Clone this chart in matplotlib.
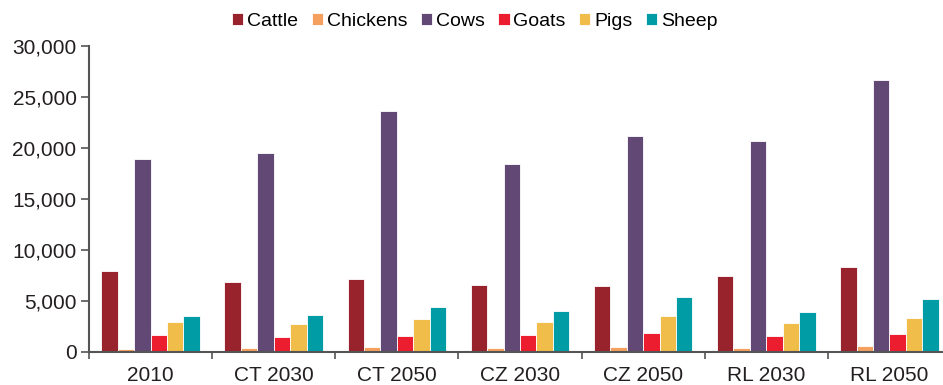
import matplotlib
matplotlib.use("Agg")
import matplotlib.pyplot as plt
import numpy as np

plt.rcParams["font.family"] = ["Liberation Sans", "DejaVu Sans"]

scenarios = ["2010", "CT 2030", "CT 2050", "CZ 2030", "CZ 2050", "RL 2030", "RL 2050"]
animals = ["Cattle", "Chickens", "Cows", "Goats", "Pigs", "Sheep"]

cattle = [7900, 6800, 7100, 6500, 6450, 7400, 8300]
chickens = [260, 360, 490, 330, 490, 360, 590]
cows = [18950, 19470, 23630, 18420, 21140, 20680, 26700]
goats = [1640, 1440, 1500, 1600, 1800, 1570, 1730]
pigs = [2950, 2750, 3210, 2910, 3530, 2780, 3270]
sheep = [3470, 3600, 4390, 3990, 5370, 3930, 5170]

colors = ["#98232C", "#F5A05E", "#614875", "#EC1D2E", "#F0BD4A", "#009CA6"]

fig = plt.figure(figsize=(9.43, 3.85), dpi=100)
ax = fig.add_axes([89 / 943, 33.3 / 385, 862 / 943, 305.7 / 385])

x = np.arange(len(scenarios))
width = 0.8 / len(animals)
for i, (name, vals) in enumerate(zip(animals, [cattle, chickens, cows, goats, pigs, sheep])):
    offset = (i - (len(animals) - 1) / 2) * width
    ax.bar(x + offset, vals, width, color=colors[i], label=name,
           edgecolor="white", linewidth=0.6)

ax.set_xlim(-0.5, len(scenarios) - 0.5)
ax.set_ylim(0, 30000)
ax.set_yticks(range(0, 30001, 5000))
ax.set_yticklabels([f"{v:,}" for v in range(0, 30001, 5000)], fontsize=15, color="#231F20")

# category labels in the middle, tick marks on the boundaries
ax.set_xticks(x)
ax.set_xticklabels(scenarios, fontsize=15, color="#231F20")
ax.tick_params(axis="x", which="major", length=0, pad=10)
ax.set_xticks(np.arange(-0.5, len(scenarios) + 0.5, 1), minor=True)
ax.tick_params(axis="x", which="minor", length=5, width=1.2, color="#555555")
ax.tick_params(axis="y", length=6, width=1.2, color="#555555", pad=3)

for side in ["top", "right"]:
    ax.spines[side].set_visible(False)
for side in ["left", "bottom"]:
    ax.spines[side].set_color("#555555")
    ax.spines[side].set_linewidth(1.5)

fig.legend(loc="center", bbox_to_anchor=(475 / 943, 1 - 21 / 385), ncol=6, frameon=False,
           fontsize=14, handlelength=0.57, handleheight=0.57, handletextpad=0.2,
           columnspacing=0.7, borderpad=0)

fig.savefig("out.png", dpi=100)
